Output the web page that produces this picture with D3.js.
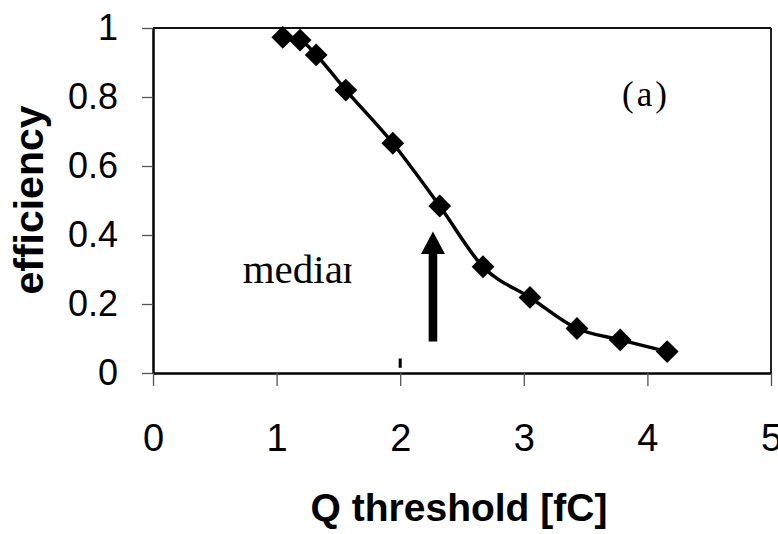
<!DOCTYPE html>
<html>
<head>
<meta charset="utf-8">
<script src="https://cdn.jsdelivr.net/npm/d3@7"></script>
<style>
	body { margin: 0; background: #fff; }
	.axis text { font-family: "Liberation Sans", Arial, sans-serif; fill: #000; }
	.axis .domain { stroke: #000; stroke-width: 2.5; }
	.axis .tick line { stroke: #555; stroke-width: 1.3; }
</style>
</head>
<body>
<div id="chart-area"></div>
<script>

// efficiency vs charge threshold
let threshold = [1.05, 1.19, 1.32, 1.56, 1.94, 2.32, 2.67, 3.05, 3.43, 3.78, 4.16];
let efficiency = [0.973, 0.965, 0.922, 0.82, 0.666, 0.484, 0.308, 0.219, 0.129, 0.096, 0.062];

let xTicks = [0, 1, 2, 3, 4, 5];
let yTicks = [0, 0.2, 0.4, 0.6, 0.8, 1];

// arrow marking the median, in data units
let arrowX = 2.265;
let arrowTip = 0.41, arrowBase = 0.345, arrowEnd = 0.091;

let data = threshold.map((t, i) => ({x: t, y: efficiency[i]}));

let margin = {top: 28, right: 7, bottom: 161, left: 153};
let width = 778 - margin.left - margin.right;
let height = 534 - margin.top - margin.bottom;

let svg = d3.select("#chart-area").append("svg")
		.attr("width", width + margin.left + margin.right)
		.attr("height", height + margin.top + margin.bottom)
	.append("g")
		.attr("transform", "translate(" + margin.left + "," + margin.top + ")");

let x = d3.scaleLinear().domain([0, 5]).range([0, width]);
let y = d3.scaleLinear().domain([0, 1]).range([height, 0]);

// frame top and right
svg.append("line")
	.attr("x1", 0).attr("x2", width)
	.attr("y1", 0).attr("y2", 0)
	.attr("stroke", "#111").attr("stroke-width", 2);
svg.append("line")
	.attr("x1", width).attr("x2", width)
	.attr("y1", 0).attr("y2", height)
	.attr("stroke", "#222").attr("stroke-width", 2);

// axes
svg.append("g")
	.attr("class", "axis y-axis")
	.call(d3.axisLeft(y).tickValues(yTicks).tickFormat(d3.format("")).tickSizeInner(11).tickSizeOuter(0).tickPadding(24))
	.selectAll("text").style("font-size", "36px");

// x labels: put the baseline where it sits in the original
svg.append("g")
	.attr("class", "axis x-axis")
	.attr("transform", "translate(0," + height + ")")
	.call(d3.axisBottom(x).tickValues(xTicks).tickFormat(d3.format("d")).tickSizeInner(13).tickSizeOuter(0))
	.selectAll("text")
	.style("font-size", "38px")
	.attr("y", 78)
	.attr("dy", null);

// axis titles
svg.append("text")
	.attr("transform", "translate(" + (43 - margin.left) + "," + 172 + ") rotate(-90)")
	.attr("text-anchor", "middle")
	.style("font-family", "'Liberation Sans', Arial, sans-serif")
	.style("font-weight", "bold")
	.style("font-size", "41px")
	.text("efficiency");

svg.append("text")
	.attr("x", width / 2 - 3)
	.attr("y", 521 - margin.top)
	.attr("text-anchor", "middle")
	.style("font-family", "'Liberation Sans', Arial, sans-serif")
	.style("font-weight", "bold")
	.style("font-size", "39px")
	.text("Q threshold [fC]");

// smooth line
let line = d3.line()
	.x(d => x(d.x))
	.y(d => y(d.y))
	.curve(d3.curveMonotoneX);

svg.append("path")
	.datum(data)
	.attr("fill", "none")
	.attr("stroke", "#000")
	.attr("stroke-width", 3.5)
	.attr("d", line);

// diamond markers
svg.selectAll(".data-point")
	.data(data)
	.enter()
	.append("path")
	.attr("class", "data-point")
	.attr("d", d3.symbol().type(d3.symbolSquare).size(260))
	.attr("transform", d => "translate(" + x(d.x) + "," + y(d.y) + ") rotate(45)")
	.attr("fill", "#000");

// arrow
let hw = 12, sw = 4.3;
let ax = x(arrowX);
svg.append("path")
	.attr("d", "M" + ax + "," + y(arrowTip)
		+ "L" + (ax + hw) + "," + y(arrowBase)
		+ "L" + (ax + sw) + "," + y(arrowBase)
		+ "L" + (ax + sw) + "," + y(arrowEnd)
		+ "L" + (ax - sw) + "," + y(arrowEnd)
		+ "L" + (ax - sw) + "," + y(arrowBase)
		+ "L" + (ax - hw) + "," + y(arrowBase) + "Z")
	.attr("fill", "#000");

// little stray mark near x = 2
svg.append("line")
	.attr("x1", x(2)).attr("x2", x(2))
	.attr("y1", y(0.042)).attr("y2", y(0.015))
	.attr("stroke", "#000").attr("stroke-width", 3);

// "median" label, clipped like in the original
svg.append("clipPath")
	.attr("id", "median-clip")
	.append("rect")
	.attr("x", 80).attr("y", 200)
	.attr("width", 351.5 - margin.left - 80).attr("height", 80);

svg.append("text")
	.attr("x", 242.7 - margin.left)
	.attr("y", 283.3 - margin.top)
	.attr("clip-path", "url(#median-clip)")
	.style("font-family", "'Liberation Serif', 'Times New Roman', serif")
	.style("font-size", "41px")
	.text("median");

// panel label
svg.append("text")
	.attr("x", 646 - margin.left)
	.attr("y", 106 - margin.top)
	.attr("text-anchor", "middle")
	.style("font-family", "'Liberation Serif', 'Times New Roman', serif")
	.style("font-size", "35px")
	.style("letter-spacing", "3px")
	.text("(a)");

</script>
</body>
</html>
